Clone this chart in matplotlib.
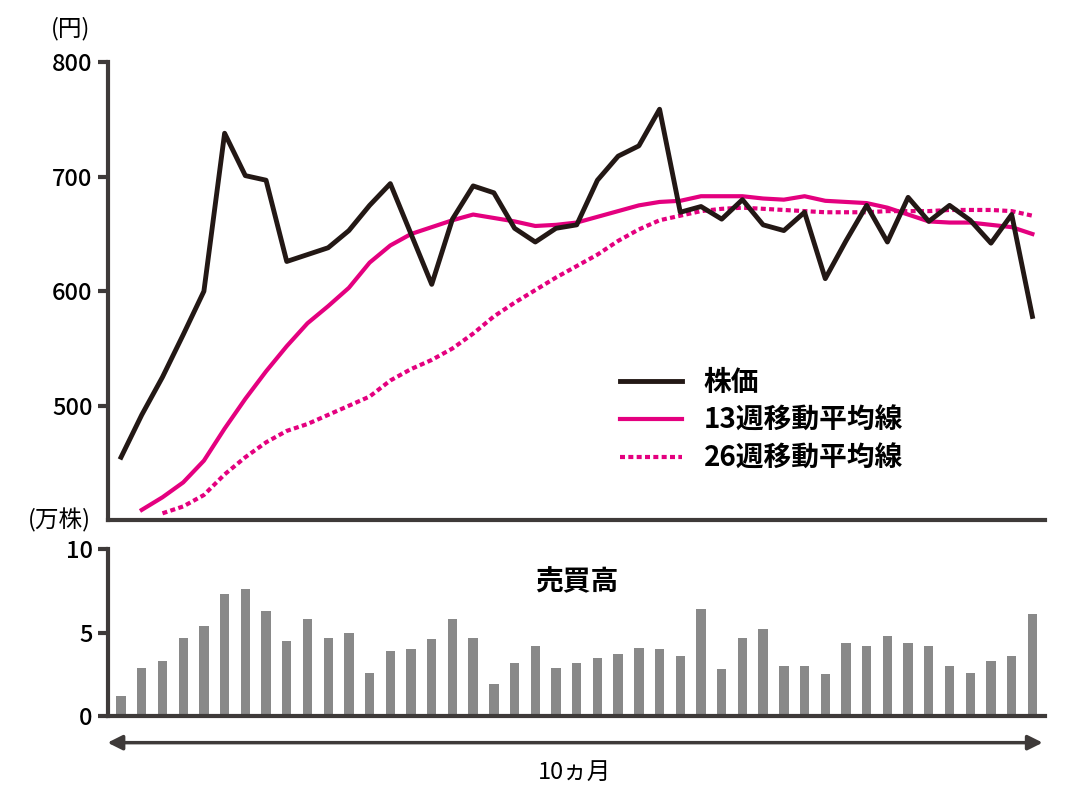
import matplotlib
matplotlib.use("Agg")
from matplotlib import pyplot as plt
import numpy as np

plt.rcParams['font.family'] = ['Noto Sans CJK JP', 'DejaVu Sans']

# weekly data (index = week)
price = [455, 492, 525, 562, 600, 738, 701, 697, 626, 632, 638, 653, 675, 694, 650,
         606, 663, 692, 686, 655, 643, 655, 658, 697, 718, 727, 759, 669, 674, 663,
         680, 658, 653, 669, 611, 644, 675, 643, 682, 661, 675, 662, 642, 667, 578]
ma13 = [409, 420, 433, 452, 480, 506, 530, 552, 572, 587, 603, 625, 640, 650, 656,
        662, 667, 664, 661, 657, 658, 660, 665, 670, 675, 678, 679, 683, 683, 683,
        681, 680, 683, 679, 678, 677, 673, 667, 661, 660, 660, 658, 656, 650]
ma26 = [406, 412, 422, 440, 455, 468, 478, 484, 492, 500, 508, 522, 532, 540, 550,
        563, 578, 590, 601, 612, 622, 632, 644, 654, 662, 666, 670, 672, 673, 672,
        671, 670, 669, 669, 669, 670, 670, 670, 671, 671, 671, 670, 666]
volume = [1.2, 2.9, 3.3, 4.7, 5.4, 7.3, 7.6, 6.3, 4.5, 5.8, 4.7, 5.0, 2.6, 3.9, 4.0,
          4.6, 5.8, 4.7, 1.9, 3.2, 4.2, 2.9, 3.2, 3.5, 3.7, 4.1, 4.0, 3.6, 6.4, 2.8,
          4.7, 5.2, 3.0, 3.0, 2.5, 4.4, 4.2, 4.8, 4.4, 4.2, 3.0, 2.6, 3.3, 3.6, 6.1]

black = '#231815'
pink = '#e4007f'
spine = '#3e3a39'

fig = plt.figure(figsize=(10.8, 8.09), dpi=100)
ax = fig.add_axes([0.1, 0.357, 0.868, 0.566])
ax2 = fig.add_axes([0.1, 0.115, 0.868, 0.206])

n = len(price)
ax.plot(np.arange(n), price, color=black, lw=3.5, label='株価', zorder=3)
ax.plot(np.arange(1, n), ma13, color=pink, lw=3, label='13週移動平均線')
ax.plot(np.arange(2, n), ma26, color=pink, lw=3, ls=(0, (1.2, 0.8)), label='26週移動平均線')
ax.set_ylim(400, 800)
ax.set_yticks([500, 600, 700, 800])
ax.legend(loc='lower left', bbox_to_anchor=(0.52, 0.05), frameon=False,
          prop={'size': 20, 'weight': 'bold'}, handlelength=2.2, labelspacing=0.35)

ax2.bar(np.arange(n), volume, width=0.45, color='#898989')
ax2.set_ylim(0, 10)
ax2.set_yticks([0, 5, 10])
ax2.text(0.5, 0.8, '売買高', transform=ax2.transAxes, ha='center', va='center',
         fontsize=20, fontweight='bold')

for a in (ax, ax2):
    a.set_xlim(-0.63, n - 1 + 0.63)
    a.set_xticks([])
    for s in ('top', 'right'):
        a.spines[s].set_visible(False)
    for s in ('left', 'bottom'):
        a.spines[s].set_color(spine)
        a.spines[s].set_linewidth(3)
    a.tick_params(axis='y', length=7, width=3, color=spine, labelsize=17, pad=4)
    for t in a.get_yticklabels():
        t.set_fontweight('medium')

fig.text(0.065, 0.965, '(円)', fontsize=17, ha='center', va='center')
fig.text(0.055, 0.357, '(万株)', fontsize=17, ha='center', va='center')

fig.add_artist(matplotlib.patches.FancyArrowPatch(
    (0.097, 0.082), (0.968, 0.082), transform=fig.transFigure,
    arrowstyle='<|-|>', mutation_scale=22, color=spine, lw=2.5))
fig.text(0.532, 0.045, '10ヵ月', fontsize=17, ha='center', va='center')

plt.savefig('out.png', format='png')
